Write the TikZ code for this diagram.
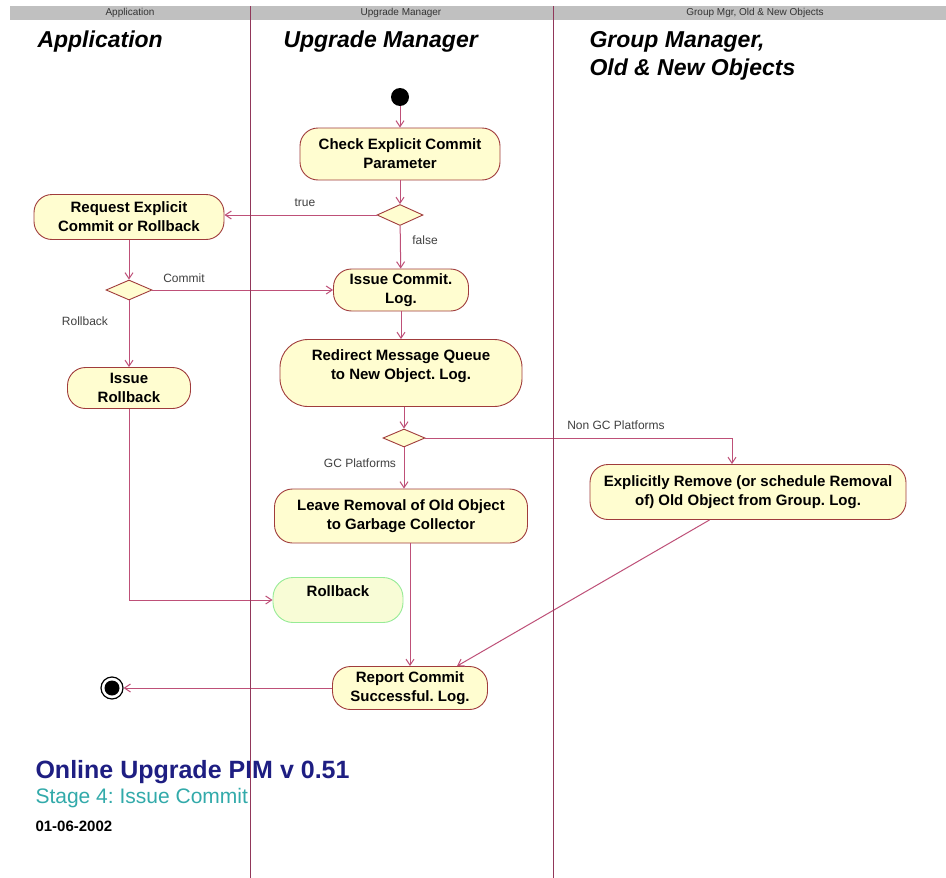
\documentclass[tikz,border=0pt]{standalone}
\usepackage{fontspec}
\setmainfont{Liberation Sans}
\usepackage{tikz}
\usetikzlibrary{positioning}
\usetikzlibrary{shapes,arrows.meta}
\frenchspacing

\definecolor{actfill}{RGB}{255,253,208}
\definecolor{actline}{RGB}{160,60,60}
\definecolor{flowcol}{RGB}{190,80,120}
\definecolor{lanecol}{RGB}{145,55,90}
\definecolor{headgray}{RGB}{192,192,192}
\definecolor{titleblue}{RGB}{30,30,130}
\definecolor{stageteal}{RGB}{50,170,170}
\definecolor{rbline}{RGB}{150,235,150}
\definecolor{rbfill}{RGB}{248,252,214}

\tikzset{
  act/.style={draw=actline,fill=actfill,rounded corners=18pt,align=center,inner sep=0pt,
    line width=0.9pt,font=\bfseries\fontsize{15}{19}\selectfont},
  decide/.style={draw=actline,fill=actfill,diamond,inner sep=0pt,line width=0.9pt},
  flow/.style={draw=flowcol,line width=1pt,-{Straight Barb[length=6pt,width=8pt]}},
  guard/.style={font=\fontsize{12}{14}\selectfont,text=black!75},
  lanetitle/.style={anchor=west,font=\bfseries\itshape\fontsize{23}{28}\selectfont},
  lanehead/.style={font=\fontsize{10}{11}\selectfont,text=black!80}
}

\begin{document}
\begin{tikzpicture}[x=1pt,y=-1pt]
\useasboundingbox[fill=white] (0,0) rectangle (946,878);
\fill[headgray] (10,6) rectangle (946,20);
\node[lanehead] (hApp) at (130,13) {Application};
\node[lanehead] (hUpg) at (401,13) {Upgrade Manager};
\node[lanehead] (hGrp) at (755,13) {Group Mgr, Old \& New Objects};

\node[lanetitle] (tApp) at (34,42) {Application};
\node[lanetitle] (tUpg) at (280,42) {Upgrade Manager};
\node[lanetitle] (tGrp) at (586,42) {Group Manager,};
\node[lanetitle] (tGrp2) at (586,70) {Old \& New Objects};

\node[circle,fill=black,minimum size=18,inner sep=0pt] (start) at (400,97) {};
\node[act,minimum width=200,minimum height=52] (check) at (400,154) {Check Explicit Commit\\Parameter};
\node[decide,minimum width=46,minimum height=21] (d1) at (400,215) {};
\node[act,minimum width=190,minimum height=45] (req) at (129,217) {Request Explicit\\Commit or Rollback};
\node[decide,minimum width=46,minimum height=20] (d2) at (129,290) {};
\node[act,minimum width=135,minimum height=42] (commit) at (401,290) {Issue Commit.\\Log.};
\node[act,minimum width=123,minimum height=41] (rbissue) at (129,388) {Issue\\Rollback};
\node[act,minimum width=242,minimum height=67,rounded corners=28pt] (redirect) at (401,373)
  {Redirect Message Queue\\to New Object. Log.\\[-2pt]\mbox{}};
\node[decide,minimum width=42,minimum height=18] (d3) at (404,438) {};
\coordinate (turn) at (732,438);
\node[act,minimum width=253,minimum height=54] (leave) at (401,516) {Leave Removal of Old Object\\to Garbage Collector};
\node[act,minimum width=316,minimum height=55] (explicit) at (748,492)
  {Explicitly Remove (or schedule Removal\\of) Old Object from Group. Log.};
\node[act,draw=rbline,fill=rbfill,minimum width=130,minimum height=45,rounded corners=20pt] (rollback) at (338,600)
  {Rollback\\[-2pt]\mbox{}};
\node[act,minimum width=155,minimum height=43] (report) at (410,688) {Report Commit\\Successful. Log.};
\node[circle,draw=black,line width=1.2pt,minimum size=22,inner sep=0pt,
  path picture={\fill[black] (path picture bounding box.center) circle (7.5pt);}] (stop) at (112,688) {};

\node[guard] (gTrue) at (305,203) {true};
\node[guard] (gFalse) at (425,240) {false};
\node[guard] (gCommit) at (184,278) {Commit};
\node[guard] (gRollback) at (85,321) {Rollback};
\node[guard] (gGC) at (360,463) {GC Platforms};
\node[guard] (gNonGC) at (616,425) {Non GC Platforms};

\draw[flow] (start) -- (check);
\draw[flow] (check) -- (d1);
\draw[flow] (d1.west) -- (d1.west -| req.east);
\draw[flow] (d1) -- (commit);
\draw[flow] (req) -- (d2);
\draw[flow] (d2.east) -- (d2.east -| commit.west);
\draw[flow] (d2) -- (rbissue);
\draw[flow] (commit) -- (redirect);
\draw[flow] (redirect.south -| d3) -- (d3.north);
\draw[flow] (d3.south) -- (leave.north -| d3);
\draw[flow] (d3.east) -- (turn) -- (turn |- explicit.north);
\draw[flow] (leave.south -| report.north) -- (report.north);
\draw[flow] (explicit.216) -- (report.25);
\draw[flow] (rbissue.south) |- (rollback.west);
\draw[flow] (report.west) -- (stop.east);

\node[anchor=west,text=titleblue,font=\bfseries\fontsize{25}{30}\selectfont] (title) at (32,772) {Online Upgrade PIM v 0.51};
\node[anchor=west,text=stageteal,font=\fontsize{21}{25}\selectfont] (stage) at (32,798) {Stage 4: Issue Commit};
\node[anchor=west,font=\bfseries\fontsize{15}{17}\selectfont] (date) at (32,826) {01-06-2002};

\draw[lanecol,line width=0.8pt] (250,6) -- (250,878);
\draw[lanecol,line width=0.8pt] (553,6) -- (553,878);
\end{tikzpicture}
\end{document}
